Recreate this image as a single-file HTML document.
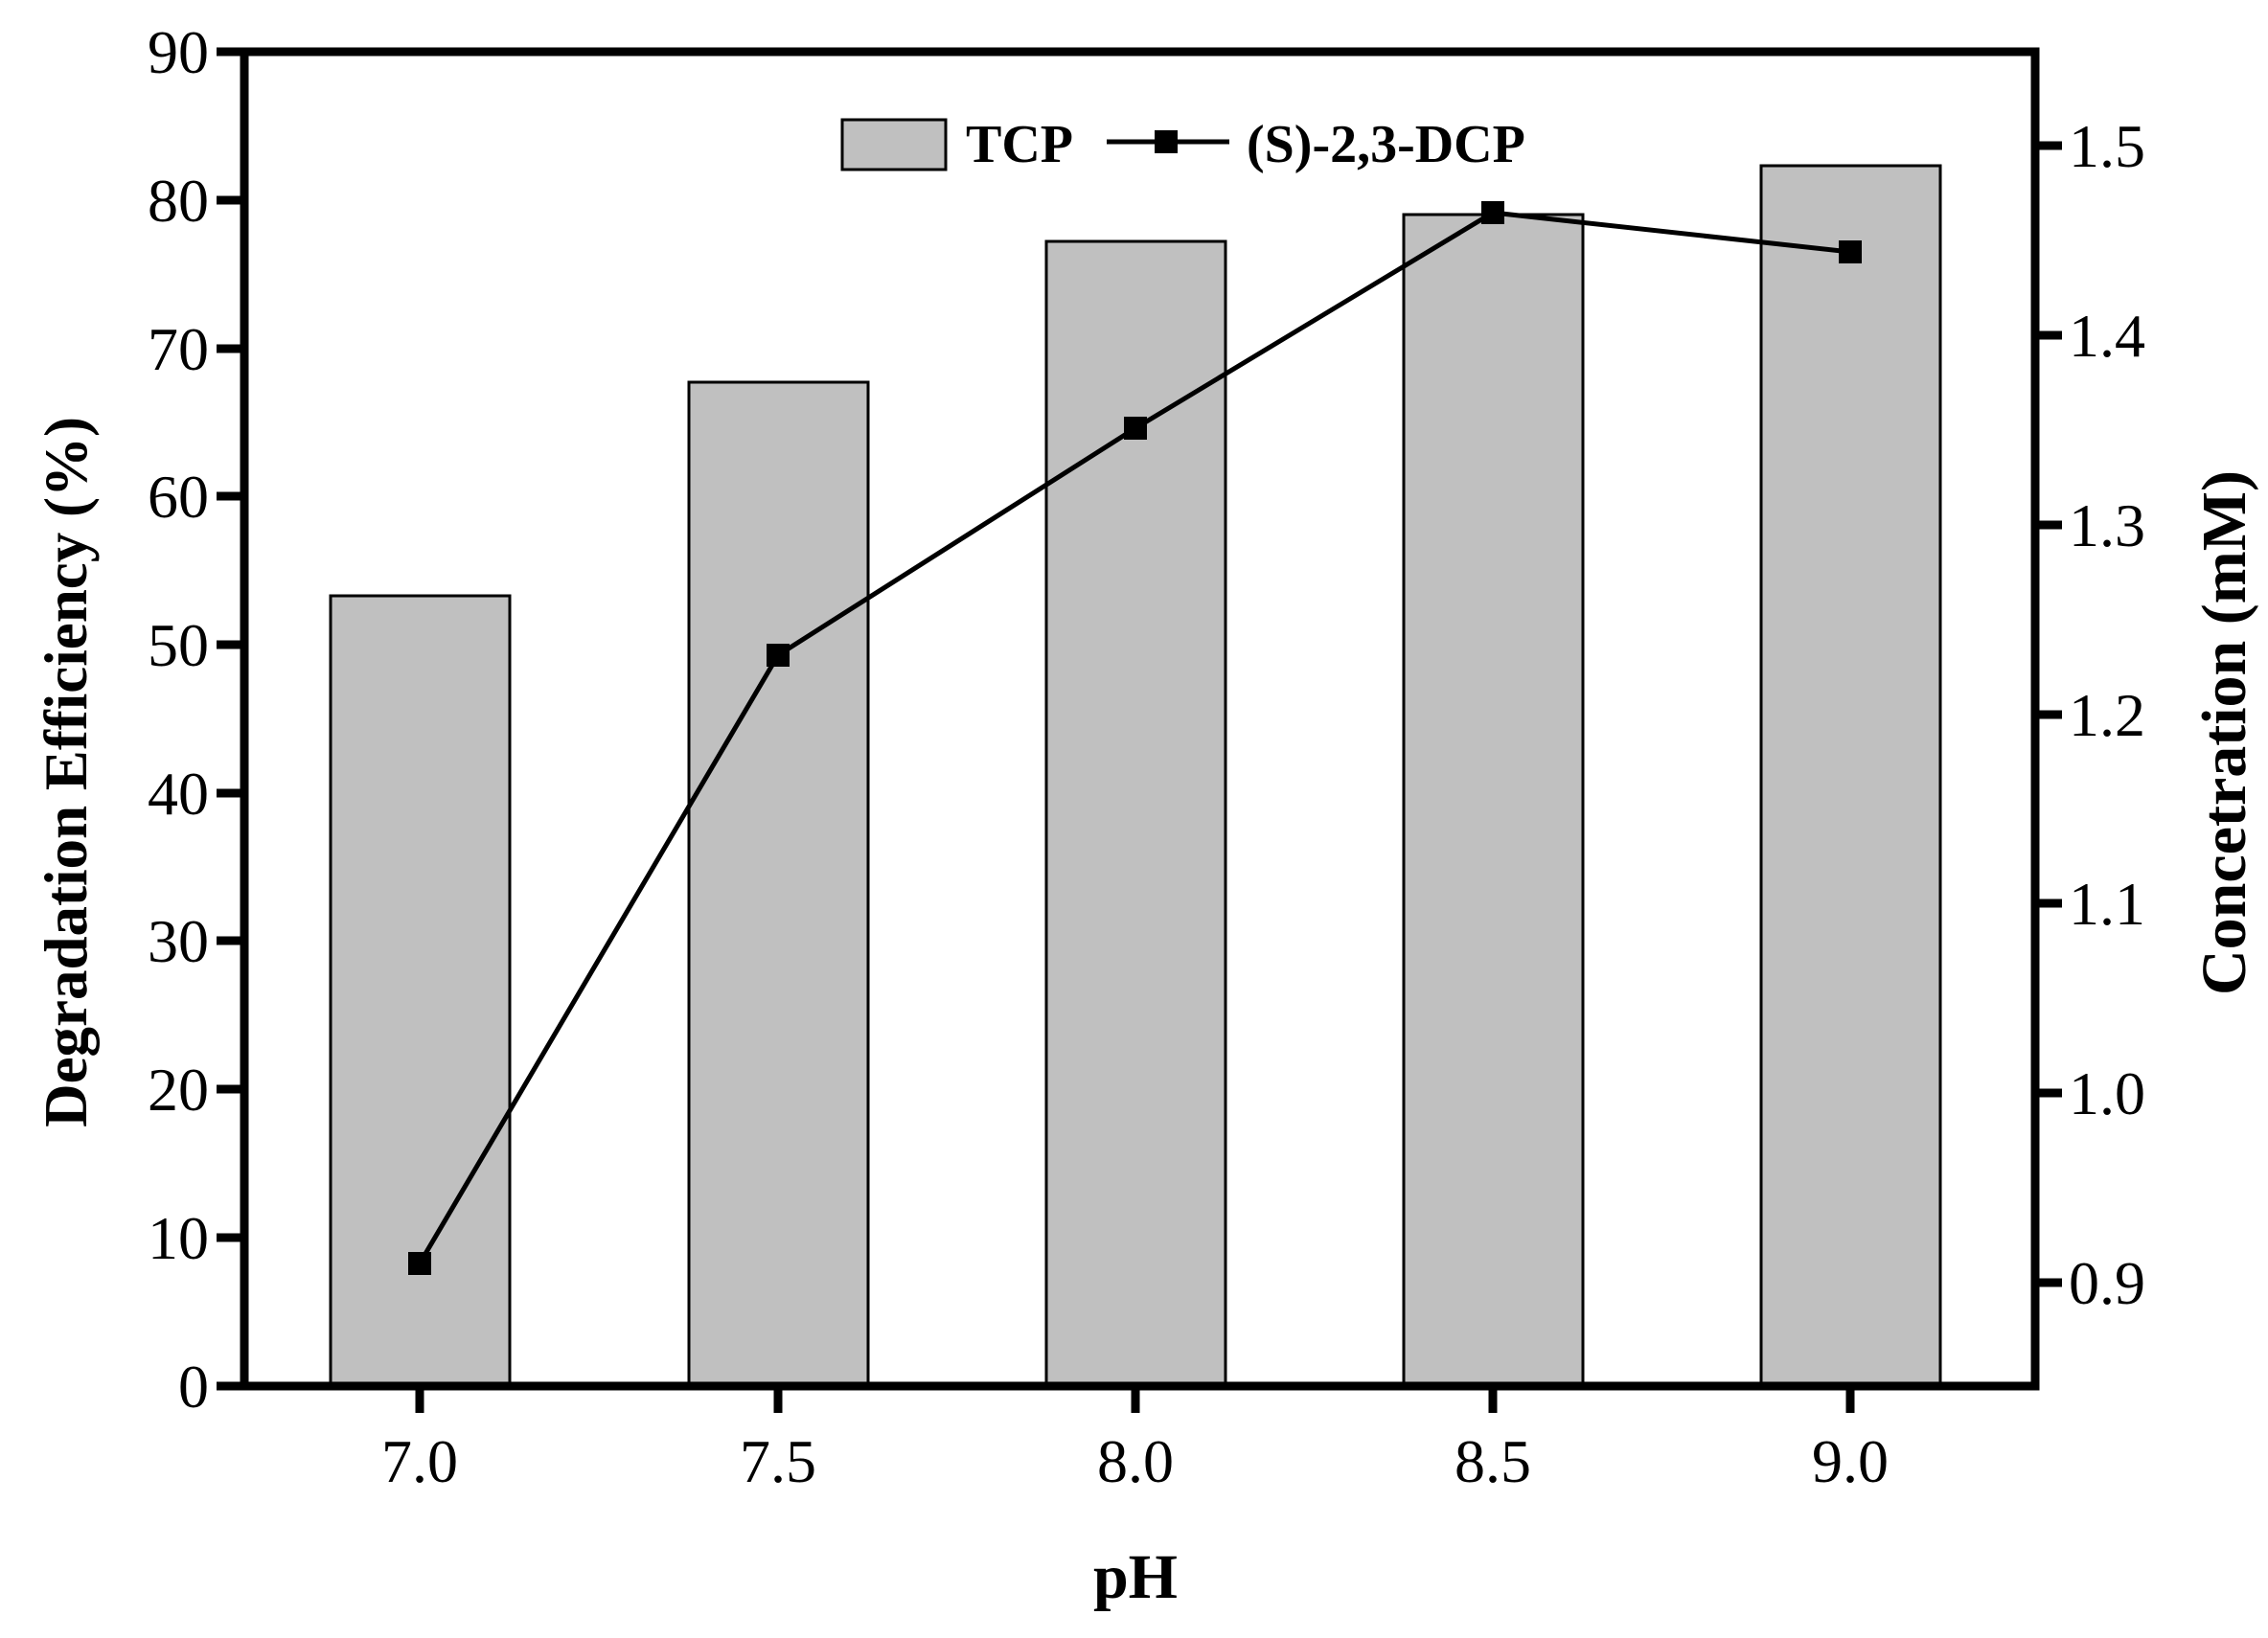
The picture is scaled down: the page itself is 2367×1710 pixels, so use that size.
<!DOCTYPE html>
<html><head><meta charset="utf-8"><style>html,body{margin:0;padding:0;background:#fff}</style></head>
<body>
<svg width="2367" height="1705" viewBox="0 0 2367 1705" xmlns="http://www.w3.org/2000/svg" font-family="Liberation Serif, serif">
<rect width="2367" height="1705" fill="#fff"/>
<g fill="#c0c0c0" stroke="#000" stroke-width="3">
<rect x="345" y="622" width="187" height="825"/>
<rect x="719" y="399" width="187" height="1048"/>
<rect x="1092" y="252" width="187" height="1195"/>
<rect x="1465" y="224" width="187" height="1223"/>
<rect x="1838" y="173" width="187" height="1274"/>
</g>
<polyline points="438,1319 812,684 1185,447 1558,222 1931,263" fill="none" stroke="#000" stroke-width="5"/>
<g fill="#000">
<rect x="426" y="1307" width="24" height="24"/>
<rect x="800" y="672" width="24" height="24"/>
<rect x="1173" y="435" width="24" height="24"/>
<rect x="1546" y="210" width="24" height="24"/>
<rect x="1919" y="251" width="24" height="24"/>
</g>
<rect x="255" y="54" width="1869" height="1393" fill="none" stroke="#000" stroke-width="9"/>
<g stroke="#000" stroke-width="9">
<line x1="226" y1="1447" x2="255" y2="1447"/><line x1="226" y1="1292" x2="255" y2="1292"/>
<line x1="226" y1="1137" x2="255" y2="1137"/><line x1="226" y1="982" x2="255" y2="982"/>
<line x1="226" y1="828" x2="255" y2="828"/><line x1="226" y1="673" x2="255" y2="673"/>
<line x1="226" y1="518" x2="255" y2="518"/><line x1="226" y1="364" x2="255" y2="364"/>
<line x1="226" y1="209" x2="255" y2="209"/><line x1="226" y1="54" x2="255" y2="54"/>
<line x1="438" y1="1447" x2="438" y2="1475"/><line x1="812" y1="1447" x2="812" y2="1475"/>
<line x1="1185" y1="1447" x2="1185" y2="1475"/><line x1="1558" y1="1447" x2="1558" y2="1475"/>
<line x1="1931" y1="1447" x2="1931" y2="1475"/>
<line x1="2124" y1="1339" x2="2152" y2="1339"/><line x1="2124" y1="1141" x2="2152" y2="1141"/>
<line x1="2124" y1="943" x2="2152" y2="943"/><line x1="2124" y1="746" x2="2152" y2="746"/>
<line x1="2124" y1="548" x2="2152" y2="548"/><line x1="2124" y1="350" x2="2152" y2="350"/>
<line x1="2124" y1="152" x2="2152" y2="152"/>
</g>
<g font-size="64" fill="#000" text-anchor="end">
<text x="218" y="1469">0</text><text x="218" y="1314">10</text><text x="218" y="1159">20</text>
<text x="218" y="1004">30</text><text x="218" y="850">40</text><text x="218" y="695">50</text>
<text x="218" y="540">60</text><text x="218" y="386">70</text><text x="218" y="231">80</text>
<text x="218" y="76">90</text>
</g>
<g font-size="64" fill="#000" text-anchor="middle">
<text x="438" y="1547">7.0</text><text x="812" y="1547">7.5</text><text x="1185" y="1547">8.0</text>
<text x="1558" y="1547">8.5</text><text x="1931" y="1547">9.0</text>
</g>
<g font-size="64" fill="#000">
<text x="2159" y="1361">0.9</text><text x="2159" y="1163">1.0</text><text x="2159" y="965">1.1</text>
<text x="2159" y="768">1.2</text><text x="2159" y="570">1.3</text><text x="2159" y="372">1.4</text>
<text x="2159" y="174">1.5</text>
</g>
<text x="1185" y="1668" font-size="66" font-weight="bold" text-anchor="middle">pH</text>
<text transform="translate(90,806) rotate(-90)" font-size="63" font-weight="bold" text-anchor="middle">Degradation Efficiency (%)</text>
<text transform="translate(2343,765) rotate(-90)" font-size="66" font-weight="bold" text-anchor="middle">Concetration (mM)</text>
<rect x="879" y="125" width="108" height="52" fill="#c0c0c0" stroke="#000" stroke-width="3"/>
<text x="1008" y="169" font-size="56" font-weight="bold">TCP</text>
<line x1="1155" y1="148" x2="1283" y2="148" stroke="#000" stroke-width="5"/>
<rect x="1205" y="136" width="24" height="24" fill="#000"/>
<text x="1301" y="169" font-size="56" font-weight="bold">(S)-2,3-DCP</text>
</svg>
</body></html>
